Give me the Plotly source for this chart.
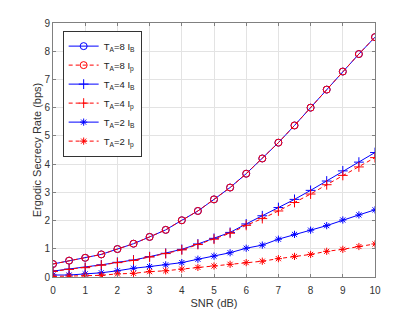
import plotly.graph_objects as go

snr = [0, 0.5, 1, 1.5, 2, 2.5, 3, 3.5, 4, 4.5, 5, 5.5, 6, 6.5, 7, 7.5, 8, 8.5, 9, 9.5, 10]

ta8_ib = [0.46, 0.58, 0.68, 0.80, 0.99, 1.18, 1.42, 1.67, 2.01, 2.34, 2.75, 3.17, 3.66, 4.20, 4.76, 5.37, 6.00, 6.64, 7.28, 7.90, 8.50]
ta8_ip = [0.46, 0.58, 0.68, 0.80, 0.99, 1.18, 1.42, 1.67, 2.01, 2.34, 2.75, 3.17, 3.66, 4.20, 4.76, 5.37, 6.00, 6.64, 7.28, 7.90, 8.50]
ta4_ib = [0.21, 0.28, 0.34, 0.43, 0.52, 0.60, 0.72, 0.84, 0.98, 1.17, 1.37, 1.58, 1.88, 2.17, 2.46, 2.75, 3.07, 3.40, 3.76, 4.07, 4.41]
ta4_ip = [0.20, 0.27, 0.33, 0.42, 0.51, 0.59, 0.71, 0.83, 0.96, 1.15, 1.34, 1.55, 1.83, 2.07, 2.34, 2.64, 2.94, 3.27, 3.60, 3.90, 4.23]
ta2_ib = [0.07, 0.07, 0.11, 0.15, 0.22, 0.31, 0.37, 0.43, 0.51, 0.63, 0.74, 0.86, 1.02, 1.13, 1.34, 1.51, 1.66, 1.82, 2.02, 2.20, 2.38]
ta2_ip = [0.02, 0.03, 0.04, 0.06, 0.11, 0.13, 0.19, 0.22, 0.28, 0.34, 0.39, 0.45, 0.51, 0.56, 0.65, 0.73, 0.80, 0.91, 0.98, 1.08, 1.17]

names = ["T<sub>A</sub>=8 I<sub>B</sub>", "T<sub>A</sub>=8 I<sub>p</sub>",
         "T<sub>A</sub>=4 I<sub>B</sub>", "T<sub>A</sub>=4 I<sub>p</sub>",
         "T<sub>A</sub>=2 I<sub>B</sub>", "T<sub>A</sub>=2 I<sub>p</sub>"]

series = [ta8_ib, ta8_ip, ta4_ib, ta4_ip, ta2_ib, ta2_ip]
colors = ["#0000FF", "#FF0000"] * 3
dashes = ["solid", "4px,3px"] * 3
symbols = ["circle-open", "circle-open", "cross-thin-open", "cross-thin-open",
           "asterisk-open", "asterisk-open"]
sizes = [7, 7, 7, 7, 6, 6]

fig = go.Figure()
for ys, nm, c, d, s, sz in zip(series, names, colors, dashes, symbols, sizes):
    fig.add_trace(go.Scatter(
        x=snr, y=ys, name=nm, mode="lines+markers",
        line=dict(color=c, width=1, dash=d),
        marker=dict(symbol=s, size=sz, color=c, line=dict(color=c, width=1)),
    ))

axis_common = dict(
    showgrid=True, gridcolor="#E3E3E3", gridwidth=1,
    showline=True, linecolor="#808080", linewidth=1, mirror="ticks",
    ticks="inside", ticklen=3, tickcolor="#808080",
    tickfont=dict(family="Liberation Sans, Arial", size=10, color="#333333"),
    zeroline=False, automargin=False,
)

fig.update_layout(
    width=415, height=312,
    margin=dict(l=45, r=48, t=15, b=43),
    paper_bgcolor="white", plot_bgcolor="white",
    font=dict(family="Liberation Sans, Arial", size=10, color="#333333"),
    xaxis=dict(range=[0, 10], dtick=1, ticklabelstandoff=4,
               title=dict(text="SNR (dB)", font=dict(size=11, color="#333333"), standoff=4),
               **axis_common),
    yaxis=dict(range=[0, 9], dtick=1,
               title=dict(text="Ergodic Secrecy Rate (bps)", font=dict(size=11, color="#333333"), standoff=0),
               **axis_common),
    legend=dict(x=0.03, y=0.97, xanchor="left", yanchor="top",
                bgcolor="white", bordercolor="#333333", borderwidth=1,
                font=dict(size=9.5, color="#222222"), itemwidth=30,
                tracegroupgap=0),
    showlegend=True,
)

fig.write_html("out.html")
